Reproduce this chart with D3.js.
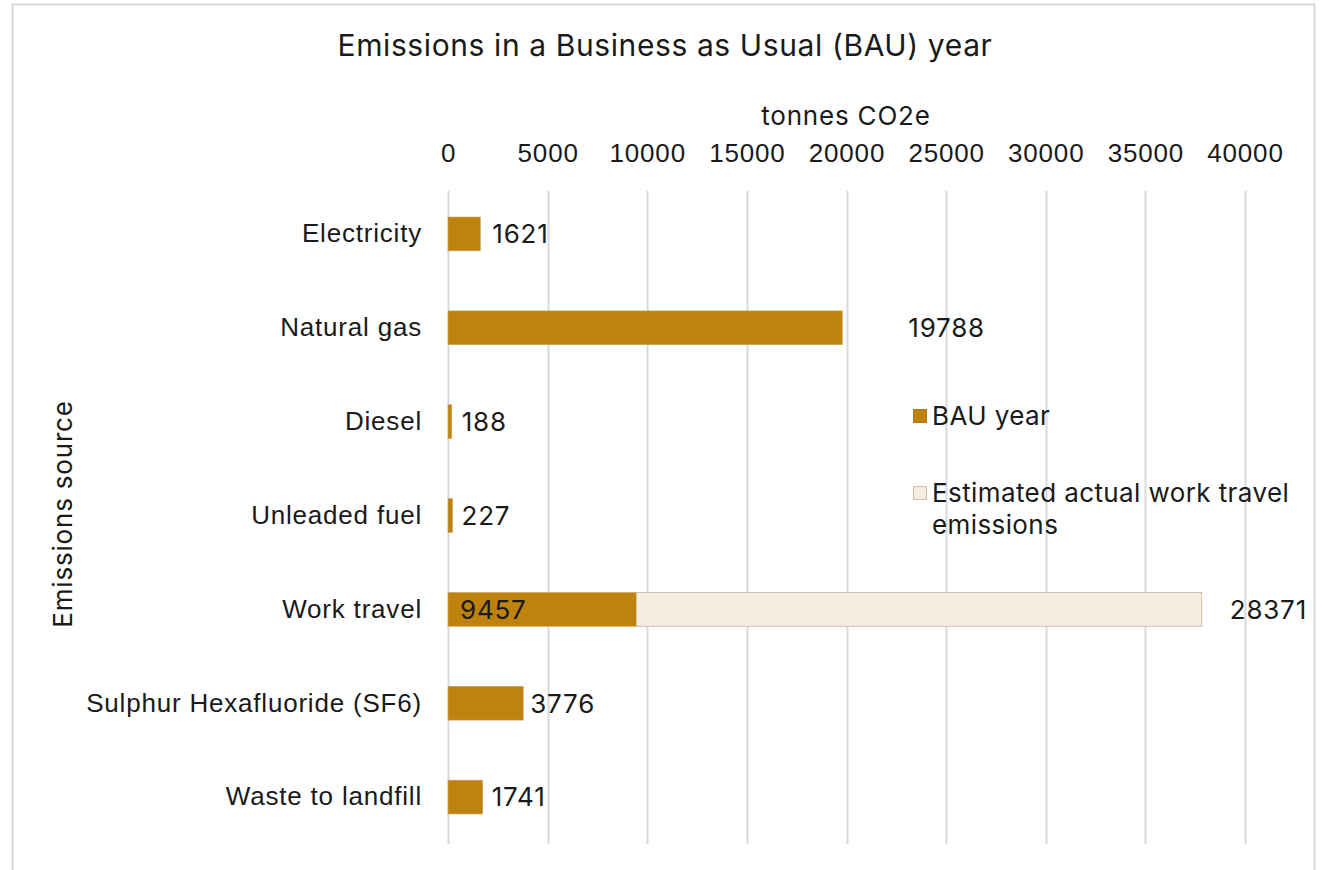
<!DOCTYPE html>
<html>
<head>
<meta charset="utf-8">
<script src="https://cdn.jsdelivr.net/npm/d3@7"></script>
<style>
  html, body { margin: 0; padding: 0; background: #fff; }
  svg { display: block; font-family: "Inter", "Noto Sans", sans-serif; }
  .lbl { font-size: 26px; letter-spacing: 0.8px; fill: #1a1a1a; }
  .legend-text { letter-spacing: 0.4px; }
</style>
</head>
<body>
<svg id="chart" width="1322" height="870"></svg>
<script>
// Emission sources and tonnes CO2e in a BAU year
const categories = ["Electricity", "Natural gas", "Diesel", "Unleaded fuel", "Work travel", "Sulphur Hexafluoride (SF6)", "Waste to landfill"];
const bauValues = [1621, 19788, 188, 227, 9457, 3776, 1741];
const estimatedWorkTravel = [0, 0, 0, 0, 28371, 0, 0];
const tickValues = [0, 5000, 10000, 15000, 20000, 25000, 30000, 35000, 40000];
const seriesNames = ["BAU year", "Estimated actual work travel emissions"];

const colors = { bau: "#BF820F", est: "#F5EDE0", estStroke: "#CDBFA8", grid: "#D9D9D9", text: "#1a1a1a" };

const svg = d3.select("#chart");
const plot = { left: 448, right: 1245, top: 187, bottom: 844 };

// outer chart frame
svg.append("rect").attr("x", 12.5).attr("y", 4.5).attr("width", 1302).attr("height", 880)
  .attr("fill", "#fff").attr("stroke", colors.grid).attr("stroke-width", 2);

const x = d3.scaleLinear().domain([0, 40000]).range([plot.left, plot.right]);
const y = d3.scaleBand().domain(categories).range([plot.top, plot.bottom]).paddingInner(0.64).paddingOuter(0.32);

// vertical gridlines
svg.append("g").selectAll("line").data(tickValues).join("line")
  .attr("x1", d => Math.round(x(d)) + 0.5).attr("x2", d => Math.round(x(d)) + 0.5)
  .attr("y1", 191).attr("y2", plot.bottom)
  .attr("stroke", colors.grid).attr("stroke-width", 2);

// top axis tick labels
const xAxis = d3.axisTop(x).tickValues(tickValues).tickSize(0).tickPadding(0).tickFormat(d3.format("d"));
const gx = svg.append("g").attr("transform", "translate(0,162)").call(xAxis);
gx.select(".domain").remove();
gx.attr("font-size", null);
gx.selectAll("text").attr("class", "lbl").attr("fill", null).attr("font-family", "inherit");

// category axis labels
const yAxis = d3.axisLeft(y).tickSize(0).tickPadding(26);
const gy = svg.append("g").attr("transform", `translate(${plot.left},0)`).call(yAxis);
gy.select(".domain").remove();
gy.attr("font-size", null);
gy.selectAll("text").attr("class", "lbl").attr("fill", null).attr("font-family", "inherit");

// BAU bars
svg.append("g").selectAll("rect").data(categories).join("rect")
  .attr("x", x(0)).attr("y", d => y(d))
  .attr("width", (d, i) => x(bauValues[i]) - x(0))
  .attr("height", y.bandwidth())
  .attr("fill", colors.bau).attr("stroke", "#C9A35E").attr("stroke-width", 0.6);

// estimated work travel segment stacked after BAU
svg.append("g").selectAll("rect").data(categories.filter((d, i) => estimatedWorkTravel[i] > 0)).join("rect")
  .attr("x", d => x(bauValues[categories.indexOf(d)]))
  .attr("y", d => y(d))
  .attr("width", d => { const i = categories.indexOf(d); return x(bauValues[i] + estimatedWorkTravel[i]) - x(bauValues[i]); })
  .attr("height", y.bandwidth())
  .attr("fill", colors.est).attr("stroke", colors.estStroke).attr("stroke-width", 1);

// value labels (spacing after bar end; natural gas and total labels sit further out)
const labelGap = [12, 66, 10, 9, null, 7, 9];
svg.append("g").selectAll("text").data(categories).join("text")
  .attr("class", "lbl")
  .attr("x", (d, i) => labelGap[i] === null ? x(0) + 12 : x(bauValues[i]) + labelGap[i])
  .attr("y", d => y(d) + y.bandwidth() / 2)
  .attr("dy", "0.36em")
  .text((d, i) => bauValues[i]);

svg.append("g").selectAll("text").data(categories.filter((d, i) => estimatedWorkTravel[i] > 0)).join("text")
  .attr("class", "lbl")
  .attr("x", d => { const i = categories.indexOf(d); return x(bauValues[i] + estimatedWorkTravel[i]) + 28; })
  .attr("y", d => y(d) + y.bandwidth() / 2)
  .attr("dy", "0.36em")
  .text(d => estimatedWorkTravel[categories.indexOf(d)]);

// titles
svg.append("text").attr("x", 665).attr("y", 56).attr("text-anchor", "middle")
  .attr("font-size", 30).attr("letter-spacing", 0.6).attr("fill", colors.text).text("Emissions in a Business as Usual (BAU) year");
svg.append("text").attr("class", "lbl").attr("x", 846).attr("y", 125).attr("text-anchor", "middle").text("tonnes CO2e");
svg.append("text").attr("class", "lbl").attr("transform", "translate(72,514) rotate(-90)").attr("text-anchor", "middle").text("Emissions source");

// legend
const legend = svg.append("g").attr("transform", "translate(913,0)");
const legendRows = [
  { fill: colors.bau, stroke: "#A97510", y: 416, lines: ["BAU year"] },
  { fill: colors.est, stroke: colors.estStroke, y: 493, lines: ["Estimated actual work travel", "emissions"] }
];
legendRows.forEach((r, i) => {
  legend.append("rect").attr("x", 0.5).attr("y", r.y - 6.5).attr("width", 13).attr("height", 13)
    .attr("fill", r.fill).attr("stroke", r.stroke);
  const t = legend.append("text").attr("class", "lbl legend-text").attr("y", r.y).attr("data-series", seriesNames[i]);
  r.lines.forEach((ln, k) => t.append("tspan").attr("x", 19).attr("dy", k === 0 ? "0.36em" : "1.2em").text(ln));
});
</script>
</body>
</html>
